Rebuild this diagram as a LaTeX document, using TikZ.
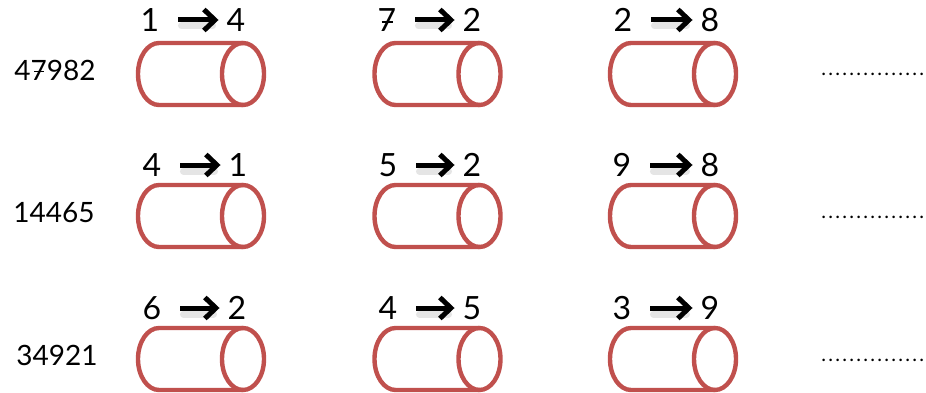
\documentclass[tikz,border=0pt]{standalone}
\usepackage{fontspec}
\setmainfont{Lato}
\usetikzlibrary{arrows.meta}
\definecolor{tubered}{RGB}{192,80,77}
\newcommand{\barseven}{\makebox[0pt][l]{\kern0.12em\rule[0.27em]{0.36em}{0.05em}}7}
\newcommand{\answerdots}{\makebox[105pt][l]{\leaders\hbox to 7pt{\hss.\hss}\hfill}}
\tikzset{
  tube/.pic={
    \draw[tubered,line width=4.4pt] (42,31) -- (-42,31)
      arc[start angle=90,end angle=270,x radius=21,y radius=31] -- (42,-31);
    \draw[tubered,line width=4.4pt] (42,0) ellipse[x radius=21,y radius=31];
  },
  digit/.style={font=\fontsize{32}{32}\selectfont,inner sep=0pt},
  number/.style={font=\fontsize{28}{28}\selectfont,inner sep=0pt},
  swap/.style={-{Straight Barb[length=11pt,width=21pt]},line width=5pt,
    shorten <=19pt,shorten >=8pt},
  swapshadow/.style={black!10,line width=7pt,line cap=round,shorten <=22pt,shorten >=14pt}
}
\begin{document}
\begin{tikzpicture}[x=1pt,y=1pt]
    \useasboundingbox (0,0) rectangle (926,392);
    % row labels
    \node[number] (n1) at (55,322) {4\barseven982};
    \node[number] (n2) at (54,179) {14465};
    \node[number] (n3) at (57,37) {34921};
    % tubes
    \foreach \col/\x in {1/201,2/437.5,3/673}
      \foreach \row/\y in {1/318,2/176,3/33}
        \pic (t\row\col) at (\x,\y) {tube};
    % digits above the tubes
    \node[digit] (a11) at (150,372) {1};
    \node[digit] (b11) at (236,372) {4};
    \node[digit] (a12) at (387,372) {\barseven};
    \node[digit] (b12) at (472,372) {2};
    \node[digit] (a13) at (623,372) {2};
    \node[digit] (b13) at (710,372) {8};
    \node[digit] (a21) at (152,227) {4};
    \node[digit] (b21) at (238,227) {1};
    \node[digit] (a22) at (388,227) {5};
    \node[digit] (b22) at (472,227) {2};
    \node[digit] (a23) at (622,227) {9};
    \node[digit] (b23) at (710,227) {8};
    \node[digit] (a31) at (152,84) {6};
    \node[digit] (b31) at (237,84) {2};
    \node[digit] (a32) at (388,84) {4};
    \node[digit] (b32) at (472,84) {5};
    \node[digit] (a33) at (622,84) {3};
    \node[digit] (b33) at (710,84) {9};
    % arrows
    \foreach \row in {1,2,3}
      \foreach \col in {1,2,3} {
        \draw[swapshadow] ([yshift=-6pt]a\row\col.east) -- ([yshift=-6pt]b\row\col.west);
        \draw[swap] (a\row\col.east) -- (b\row\col.west);
      }
    % answer dots
    \node[anchor=west,inner sep=0pt,font=\fontsize{20}{20}\selectfont] (d1) at (820,318) {\answerdots};
    \node[anchor=west,inner sep=0pt,font=\fontsize{20}{20}\selectfont] (d2) at (820,175) {\answerdots};
    \node[anchor=west,inner sep=0pt,font=\fontsize{20}{20}\selectfont] (d3) at (820,32) {\answerdots};
\end{tikzpicture}
\end{document}
